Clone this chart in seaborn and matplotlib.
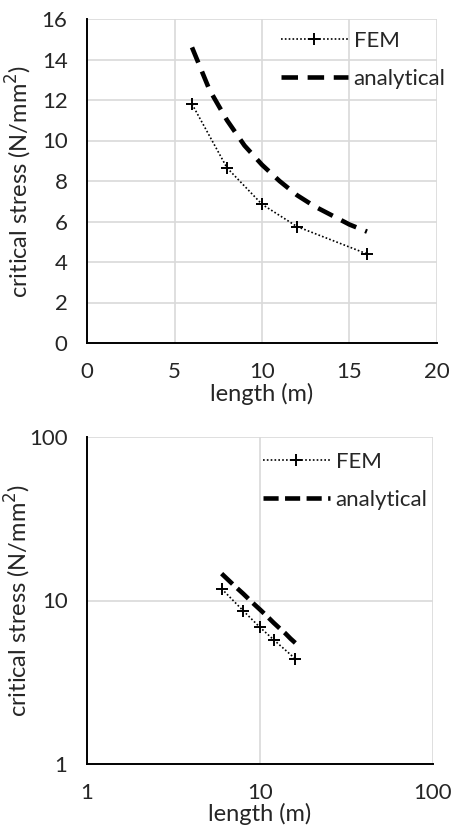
import matplotlib
matplotlib.use("Agg")
import matplotlib.pyplot as plt
import seaborn as sns
import pandas as pd
from matplotlib.ticker import FixedLocator, FixedFormatter, NullLocator

# data
fem_length = [6, 8, 10, 12, 16]
fem_stress = [11.8, 8.65, 6.85, 5.75, 4.4]
ana_length = [6, 7, 8, 9, 10, 11, 12, 13, 14, 15, 16]
ana_stress = [14.6, 12.5, 11.0, 9.75, 8.8, 8.0, 7.3, 6.75, 6.3, 5.85, 5.5]

fem = pd.DataFrame({"length": fem_length, "stress": fem_stress})
ana = pd.DataFrame({"length": ana_length, "stress": ana_stress})

sns.set_style("white")
plt.rcParams['font.family'] = ['Lato', 'DejaVu Sans']

fig = plt.figure(figsize=(4.53, 8.25), dpi=100)
ax1 = fig.add_axes([87 / 453, 1 - 343 / 825, 350 / 453, 324 / 825])
ax2 = fig.add_axes([87 / 453, 1 - 764 / 825, 346 / 453, 327 / 825])

grid_col = "#d9d9d9"
fs_tick = 16
fs_lab = 17
fs_leg = 16


def draw(ax, dash, leg_xy, ylab_x, xlab_y):
    sns.lineplot(data=fem, x="length", y="stress", ax=ax, color="black",
                 linestyle=(0, (1, 1.3)), linewidth=1.2, marker="+",
                 markersize=9, markeredgewidth=1.4, markeredgecolor="black",
                 label="FEM")
    sns.lineplot(data=ana, x="length", y="stress", ax=ax, color="black",
                 linestyle=dash, linewidth=3.3, label="analytical")
    ax.grid(True, color=grid_col, linewidth=1.2)
    ax.set_axisbelow(True)
    for s in ["top", "right"]:
        ax.spines[s].set_visible(False)
    for s in ["left", "bottom"]:
        ax.spines[s].set_color("black")
        ax.spines[s].set_linewidth(1.4)
    ax.tick_params(axis="x", length=0, labelsize=fs_tick, pad=14)
    ax.tick_params(axis="y", length=0, labelsize=fs_tick, pad=14)
    ax.set_xlabel("length (m)", fontsize=fs_lab)
    ax.set_ylabel("critical stress (N/mm$^2$)", fontsize=fs_lab)
    ax.yaxis.set_label_coords(ylab_x, 0.5)
    ax.xaxis.set_label_coords(0.5, xlab_y)
    ax.legend(loc="upper left", bbox_to_anchor=leg_xy,
              bbox_transform=fig.transFigure, frameon=False, fontsize=fs_leg,
              handlelength=3.0, handletextpad=0.27, labelspacing=0.8,
              borderpad=0, borderaxespad=0)


draw(ax1, (0, (3.6, 2.1)), (281 / 453, 1 - 31 / 825), -0.152, -0.123)
ax1.set_xlim(0, 20)
ax1.set_ylim(0, 16)
ax1.set_xticks([0, 5, 10, 15, 20])
ax1.set_yticks(range(0, 17, 2))

draw(ax2, (0, (3.3, 1.4)), (263 / 453, 1 - 452 / 825), -0.156, -0.12)
ax2.set_xscale("log")
ax2.set_yscale("log")
ax2.set_xlim(1, 100)
ax2.set_ylim(1, 100)
for axis in (ax2.xaxis, ax2.yaxis):
    axis.set_major_locator(FixedLocator([1, 10, 100]))
    axis.set_major_formatter(FixedFormatter(["1", "10", "100"]))
    axis.set_minor_locator(NullLocator())

fig.savefig("out.png", dpi=100)
